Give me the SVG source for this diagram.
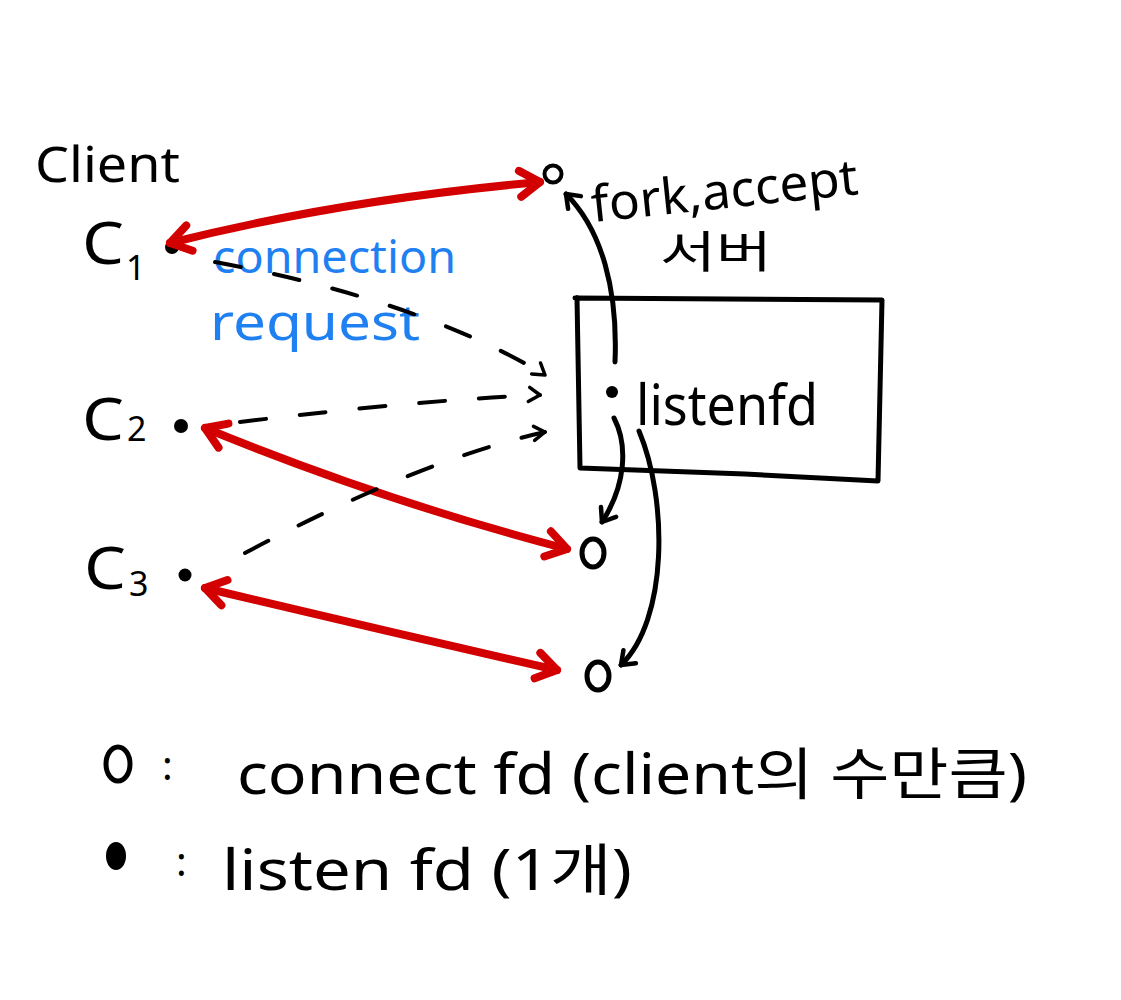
<svg xmlns="http://www.w3.org/2000/svg" width="1121" height="1000" viewBox="0 0 1121 1000">
<style>
text{font-family:"Noto Sans","Liberation Sans","Noto Sans CJK KR",sans-serif;fill:#000}
.blue{fill:#1f80f2}
.red{stroke:#d20000;stroke-width:8;fill:none;stroke-linecap:round;stroke-linejoin:round}
.blk{stroke:#000;stroke-width:5;fill:none;stroke-linecap:round;stroke-linejoin:round}
.dash{stroke:#000;stroke-width:4;fill:none;stroke-linecap:round;stroke-dasharray:26 34}
</style>
<defs>
<marker id="ra" viewBox="-30 -20 40 40" markerWidth="40" markerHeight="40" refX="0" refY="0" orient="auto-start-reverse" markerUnits="userSpaceOnUse">
<path d="M-20,-13 L0,0 L-20,13" stroke="#d20000" stroke-width="8" fill="none" stroke-linecap="round" stroke-linejoin="round"/>
</marker>
<marker id="ba" viewBox="-20 -15 30 30" markerWidth="30" markerHeight="30" refX="0" refY="0" orient="auto" markerUnits="userSpaceOnUse">
<path d="M-12,-9 L0,0 L-12,9" stroke="#000" stroke-width="4.5" fill="none" stroke-linecap="round" stroke-linejoin="round"/>
</marker>
<marker id="da" viewBox="-20 -15 30 30" markerWidth="30" markerHeight="30" refX="0" refY="0" orient="auto" markerUnits="userSpaceOnUse">
<path d="M-10,-8 L0,0 L-12,6" stroke="#000" stroke-width="3.5" fill="none" stroke-linecap="round" stroke-linejoin="round"/>
</marker>
</defs>

<g id="client-label"><text x="35" y="182" font-size="50" textLength="145" lengthAdjust="spacingAndGlyphs">Client</text></g>

<g id="c1">
<text x="82" y="264" font-size="58" textLength="42" lengthAdjust="spacingAndGlyphs">C</text><text x="126" y="280" font-size="34">1</text>
<circle cx="172" cy="247" r="7"/>
</g>
<g id="c2">
<text x="82" y="440" font-size="58" textLength="42" lengthAdjust="spacingAndGlyphs">C</text><text x="127" y="441" font-size="34">2</text>
<circle cx="181" cy="426" r="7"/>
</g>
<g id="c3">
<text x="84" y="589" font-size="58" textLength="42" lengthAdjust="spacingAndGlyphs">C</text><text x="129" y="596" font-size="34">3</text>
<circle cx="185" cy="575" r="6.5"/>
</g>

<g id="conn-request-label">
<text class="blue" x="213" y="273" font-size="46" textLength="243" lengthAdjust="spacingAndGlyphs">connection</text>
<text class="blue" x="210" y="340" font-size="50" textLength="210" lengthAdjust="spacingAndGlyphs">request</text>
</g>

<g id="server">
<path class="blk" stroke-width="6" d="M575,298 L882,300 L878,481 L745,474 L580,468 L577,298"/>
<circle cx="612" cy="392" r="6"/>
<text x="636" y="425" font-size="56" textLength="182" lengthAdjust="spacingAndGlyphs">listenfd</text>
</g>

<g id="server-label">
<text x="593" y="222" font-size="50" textLength="268" lengthAdjust="spacingAndGlyphs" transform="rotate(-6 593 222)">fork,accept</text>
<text x="660" y="268" font-size="44" textLength="112" lengthAdjust="spacingAndGlyphs">서버</text>
</g>

<g id="fd-top"><circle cx="553" cy="174" r="8.5" fill="none" stroke="#000" stroke-width="4"/></g>
<g id="fd-mid"><ellipse cx="593" cy="553" rx="11" ry="14" fill="none" stroke="#000" stroke-width="5"/></g>
<g id="fd-bot"><ellipse cx="598" cy="676" rx="11" ry="14" fill="none" stroke="#000" stroke-width="5"/></g>

<g id="connectors">
<path class="red" d="M170,243 Q340,200 540,182" marker-start="url(#ra)" marker-end="url(#ra)"/>
<path class="red" d="M205,428 Q380,500 567,549" marker-start="url(#ra)" marker-end="url(#ra)"/>
<path class="red" d="M205,588 Q380,630 557,670" marker-start="url(#ra)" marker-end="url(#ra)"/>

<path class="dash" d="M215,262 Q420,300 545,375" marker-end="url(#da)"/>
<path class="dash" d="M240,422 Q420,400 540,395" marker-end="url(#da)"/>
<path class="dash" d="M245,553 Q420,460 545,432" marker-end="url(#da)"/>

<path class="blk" d="M615,362 C618,290 602,230 566,194" marker-end="url(#ba)"/>
<path class="blk" d="M614,418 C628,445 626,485 602,522" marker-end="url(#ba)"/>
<path class="blk" d="M639,431 C668,500 668,620 621,665" marker-end="url(#ba)"/>
</g>

<g id="legend">
<ellipse cx="118" cy="764" rx="12" ry="17" fill="none" stroke="#000" stroke-width="5"/>
<text x="162" y="780" font-size="40">:</text>
<text x="237" y="794" font-size="56" textLength="790" lengthAdjust="spacingAndGlyphs">connect fd (client의 수만큼)</text>
<ellipse cx="116" cy="856" rx="10" ry="14"/>
<text x="176" y="876" font-size="40">:</text>
<text x="222" y="890" font-size="56" textLength="410" lengthAdjust="spacingAndGlyphs">listen fd (1개)</text>
</g>
</svg>
